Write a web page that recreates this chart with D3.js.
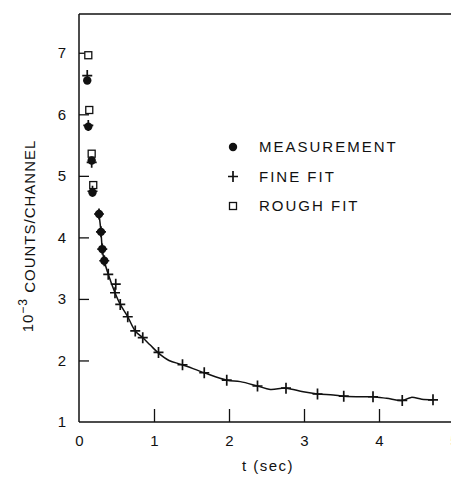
<!DOCTYPE html>
<html>
<head>
<meta charset="utf-8">
<script src="https://cdn.jsdelivr.net/npm/d3@7"></script>
<style>
  body { margin: 0; background: #fff; }
  svg { display: block; font-family: "Liberation Sans", Arial, sans-serif; }
</style>
</head>
<body>
<div id="chart"></div>
<script>
// measured points (t in sec, counts in 10^3 / channel)
const measT = [0.11, 0.124, 0.169, 0.18, 0.267, 0.293, 0.31, 0.337];
const measV = [6.55, 5.80, 5.25, 4.73, 4.38, 4.09, 3.81, 3.62];

// fine fit crosses
const fineT = [0.11, 0.124, 0.169, 0.18, 0.267, 0.293, 0.31, 0.337, 0.39, 0.49, 0.48, 0.55, 0.65, 0.75, 0.85,
               1.06, 1.38, 1.67, 1.97, 2.38, 2.76, 3.18, 3.53, 3.92, 4.31, 4.72];
const fineV = [6.63, 5.82, 5.22, 4.75, 4.38, 4.09, 3.81, 3.62, 3.40, 3.24, 3.10, 2.91, 2.71, 2.48, 2.37,
               2.13, 1.93, 1.80, 1.68, 1.585, 1.55, 1.455, 1.42, 1.41, 1.35, 1.36];

// rough fit squares
const roughT = [0.124, 0.137, 0.169, 0.19];
const roughV = [6.96, 6.07, 5.36, 4.85];

// the continuous fit curve
const curveT = [0.26, 0.293, 0.31, 0.337, 0.39, 0.48, 0.55, 0.65, 0.75, 0.85, 0.95, 1.06, 1.2, 1.38, 1.67, 1.97,
                2.15, 2.38, 2.55, 2.76, 2.99, 3.18, 3.39, 3.53, 3.79, 3.92, 4.10, 4.31, 4.43, 4.57, 4.72];
const curveV = [4.45, 4.09, 3.81, 3.62, 3.40, 3.10, 2.91, 2.71, 2.48, 2.37, 2.25, 2.12, 2.0, 1.93, 1.80, 1.68,
                1.656, 1.585, 1.53, 1.55, 1.49, 1.455, 1.44, 1.42, 1.41, 1.41, 1.385, 1.35, 1.40, 1.37, 1.36];

const xTicks = [0, 1, 2, 3, 4, 5];
const yTicks = [1, 2, 3, 4, 5, 6, 7];
const legendLabels = ["MEASUREMENT", "FINE FIT", "ROUGH FIT"];

const W = 451, H = 483;
const svg = d3.select("#chart").append("svg").attr("width", W).attr("height", H);

const x = d3.scaleLinear().domain([0, 5]).range([79, 454]);
const y = d3.scaleLinear().domain([1, 7.63]).range([422, 14]);

// frame: left, top, bottom
const frame = svg.append("g").attr("stroke", "#111").attr("stroke-width", 1.5).attr("fill", "none");
frame.append("line").attr("x1", x(0)).attr("x2", x(0)).attr("y1", y(7.63)).attr("y2", y(1));
frame.append("line").attr("x1", x(0)).attr("x2", W).attr("y1", y(7.63)).attr("y2", y(7.63));
frame.append("line").attr("x1", x(0)).attr("x2", W).attr("y1", y(1)).attr("y2", y(1));

// axes with inward ticks
const yAxis = svg.append("g").attr("transform", `translate(${x(0)},0)`)
    .call(d3.axisLeft(y).tickValues(yTicks).tickSize(-10).tickPadding(13).tickFormat(d3.format("d")));
const xAxis = svg.append("g").attr("transform", `translate(0,${y(1)})`)
    .call(d3.axisBottom(x).tickValues(xTicks).tickSize(-13).tickPadding(13).tickFormat(d3.format("d")));

[yAxis, xAxis].forEach(a => {
    a.select(".domain").remove();
    a.selectAll(".tick line").attr("stroke", "#111").attr("stroke-width", 1.3);
    a.selectAll(".tick text").attr("fill", "#111").style("font-size", "15px")
        .style("font-family", "'Liberation Sans', Arial, sans-serif");
});
yAxis.selectAll(".tick").filter(d => d === 1).select("line").remove();
xAxis.selectAll(".tick").filter(d => d === 0).select("line").remove();

// fit curve
const line = d3.line().x(d => x(d[0])).y(d => y(d[1])).curve(d3.curveCatmullRom);
svg.append("path")
    .datum(curveT.map((t, i) => [t, curveV[i]]))
    .attr("d", line)
    .attr("fill", "none").attr("stroke", "#111").attr("stroke-width", 1.5);

// markers
const drawSquare = (g, cx, cy) => g.append("rect")
    .attr("x", cx - 3.5).attr("y", cy - 3.5).attr("width", 7).attr("height", 7)
    .attr("fill", "#fff").attr("stroke", "#111").attr("stroke-width", 1.3);
const drawDot = (g, cx, cy) => g.append("circle")
    .attr("cx", cx).attr("cy", cy).attr("r", 4.2).attr("fill", "#111");
const drawCross = (g, cx, cy) => g.append("path")
    .attr("d", `M${cx - 5},${cy}H${cx + 5}M${cx},${cy - 5.5}V${cy + 5.5}`)
    .attr("stroke", "#111").attr("stroke-width", 1.7).attr("fill", "none");

const marks = svg.append("g");
roughT.forEach((t, i) => drawSquare(marks, x(t), y(roughV[i])));
measT.forEach((t, i) => drawDot(marks, x(t), y(measV[i])));
fineT.forEach((t, i) => drawCross(marks, x(t), y(fineV[i])));

// legend
const legend = svg.append("g");
const drawers = [drawDot, drawCross, drawSquare];
legendLabels.forEach((label, i) => {
    const ly = 147 + i * 29.5;
    drawers[i](legend, 233, ly);
    legend.append("text").attr("x", 259).attr("y", ly).attr("dy", "0.36em")
        .style("font-size", "15px").style("letter-spacing", "2px").attr("fill", "#111")
        .text(label);
});

// axis titles
svg.append("text").attr("x", 268).attr("y", 471).attr("text-anchor", "middle")
    .style("font-size", "15px").style("letter-spacing", "1.5px").attr("fill", "#111")
    .text("t (sec)");

const yt = svg.append("text").attr("transform", "translate(33,236) rotate(-90)")
    .attr("text-anchor", "middle").style("font-size", "15px").style("letter-spacing", "1px").attr("fill", "#111");
yt.append("tspan").text("10");
yt.append("tspan").attr("dy", "-0.5em").style("font-size", "12px").text("−3");
yt.append("tspan").attr("dy", "0.5em").text(" COUNTS/CHANNEL");
</script>
</body>
</html>
